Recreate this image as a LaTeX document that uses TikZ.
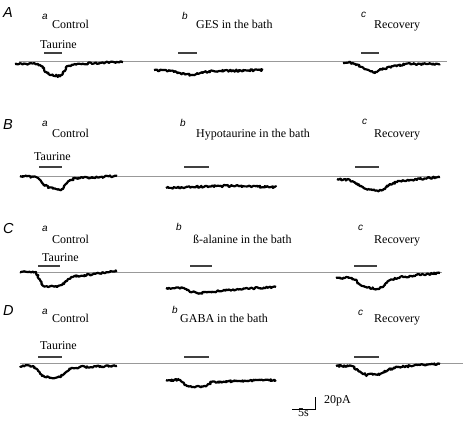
\documentclass[tikz,border=0pt]{standalone}
\usepackage{fontspec}
\setmainfont{Liberation Serif}
\newfontfamily\arialfont{Liberation Sans}
\usetikzlibrary{decorations.pathmorphing}
\begin{document}
\begin{tikzpicture}[x=1pt,y=-1pt,
  lbl/.style={anchor=base west,inner sep=0pt,font=\fontsize{12}{12}\selectfont},
  sub/.style={anchor=base west,inner sep=0pt,font=\arialfont\itshape\fontsize{10}{10}\selectfont},
  panel/.style={anchor=base west,inner sep=0pt,font=\arialfont\itshape\fontsize{14.5}{14}\selectfont},
  baseln/.style={draw=black!40,line width=0.7pt},
  stim/.style={draw=black!75,line width=1.1pt},
  trace/.style={draw=black,line width=2.2pt,line join=round,decorate,
     decoration={random steps,segment length=1.2pt,amplitude=1pt}},
  scalebar/.style={draw=black,line width=0.8pt}]
\pgfmathsetseed{7}
\useasboundingbox (0,0) rectangle (468,426);
\fill[white] (0,0) rectangle (468,426);

% ---------- Row A ----------
\node[panel] (pA) at (3,17) {A};
\node[sub] (aA) at (42,19) {a};
\node[lbl] (cA) at (52,28) {Control};
\node[sub] (bA) at (182,19) {b};
\node[lbl] (gA) at (196,28) {GES in the bath};
\node[sub] (rA) at (361,17) {c};
\node[lbl] (vA) at (374,28) {Recovery};
\node[lbl] (tA) at (40,48) {Taurine};
\draw[baseln] (19,61) -- (447,61);
\draw[stim] (44,53) -- (62,53);
\draw[stim] (178,53) -- (197,53);
\draw[stim] (361,53) -- (379,53);
\draw[trace] (15,64) -- (38,64) -- (41,66) -- (44,69) -- (47,73) -- (50,75) -- (58,76) -- (61,75) -- (63,73) -- (66,69) -- (68,66) -- (75,64) -- (95,63) -- (123,62);
\draw[trace] (154,70) -- (170,71) -- (180,73) -- (192,75) -- (198,74) -- (204,72) -- (220,71) -- (263,70);
\draw[trace] (343,63) -- (350,62) -- (356,65) -- (362,67) -- (370,71) -- (375,73) -- (380,70) -- (390,67) -- (405,64) -- (440,64);

% ---------- Row B ----------
\node[panel] (pB) at (3,129) {B};
\node[sub] (aB) at (42,126) {a};
\node[lbl] (cB) at (52,137) {Control};
\node[sub] (bB) at (180,126) {b};
\node[lbl] (gB) at (196,137) {Hypotaurine in the bath};
\node[sub] (rB) at (362,124) {c};
\node[lbl] (vB) at (374,137) {Recovery};
\node[lbl] (tB) at (34,160) {Taurine};
\draw[baseln] (20,176) -- (440,176);
\draw[stim] (39,167) -- (62,167);
\draw[stim] (184,167) -- (209,167);
\draw[stim] (355,167) -- (379,167);
\draw[trace] (20,176) -- (36,177) -- (39,179) -- (42,183) -- (48,187) -- (56,189) -- (60,190) -- (62,189) -- (64,187) -- (67,183) -- (70,180) -- (78,178) -- (100,177) -- (117,176);
\draw[trace] (166,188) -- (190,187) -- (220,186) -- (240,186) -- (276,187);
\draw[trace] (337,179) -- (350,180) -- (354,182) -- (358,185) -- (366,189) -- (372,190) -- (378,191) -- (383,190) -- (386,187) -- (390,184) -- (400,181) -- (420,179) -- (440,177);

% ---------- Row C ----------
\node[panel] (pC) at (3,233) {C};
\node[sub] (aC) at (42,231) {a};
\node[lbl] (cC) at (52,243) {Control};
\node[sub] (bC) at (176,230) {b};
\node[lbl] (gC) at (193,243) {ß-alanine in the bath};
\node[sub] (rC) at (358,230) {c};
\node[lbl] (vC) at (374,243) {Recovery};
\node[lbl] (tC) at (42,261) {Taurine};
\draw[baseln] (20,272) -- (442,272);
\draw[stim] (38,266) -- (60,266);
\draw[stim] (190,266) -- (212,266);
\draw[stim] (354,266) -- (377,266);
\draw[trace] (20,272) -- (36,272) -- (39,279) -- (42,285) -- (48,287) -- (58,286) -- (64,284) -- (66,281) -- (68,279) -- (72,277) -- (78,276) -- (95,274) -- (117,271);
\draw[trace] (166,288) -- (183,288) -- (187,290) -- (190,292) -- (198,293) -- (210,292) -- (230,290) -- (255,288) -- (276,287);
\draw[trace] (336,278) -- (352,278) -- (355,280) -- (358,283) -- (366,287) -- (377,289) -- (383,287) -- (386,283) -- (390,280) -- (400,277) -- (420,275) -- (440,273);

% ---------- Row D ----------
\node[panel] (pD) at (3,315) {D};
\node[sub] (aD) at (42,314) {a};
\node[lbl] (cD) at (52,322) {Control};
\node[sub] (bD) at (172,313) {b};
\node[lbl] (gD) at (180,322) {GABA in the bath};
\node[sub] (rD) at (358,315) {c};
\node[lbl] (vD) at (374,322) {Recovery};
\node[lbl] (tD) at (40,349) {Taurine};
\draw[baseln] (20,363) -- (463,363);
\draw[stim] (38,357) -- (62,357);
\draw[stim] (184,357) -- (209,357);
\draw[stim] (354,357) -- (379,357);
\draw[trace] (20,366) -- (33,366) -- (37,369) -- (42,376) -- (50,378) -- (60,377) -- (64,374) -- (70,369) -- (80,367) -- (117,366);
\draw[trace] (166,380) -- (180,380) -- (186,385) -- (193,387) -- (205,386) -- (212,382) -- (240,381) -- (276,380);
\draw[trace] (336,366) -- (352,366) -- (358,370) -- (366,375) -- (380,374) -- (388,370) -- (398,367) -- (420,365) -- (440,364);

% ---------- scale bar ----------
\coordinate (sbTop) at (315,397);
\coordinate (sbCorner) at (315,409);
\coordinate (sbLeft) at (292,409);
\draw[scalebar] (sbTop) -- (sbCorner) -- (sbLeft);
\node[lbl] (pa) at (324,403) {20pA};
\node[lbl] (sec) at (298,416) {5s};
\end{tikzpicture}
\end{document}
